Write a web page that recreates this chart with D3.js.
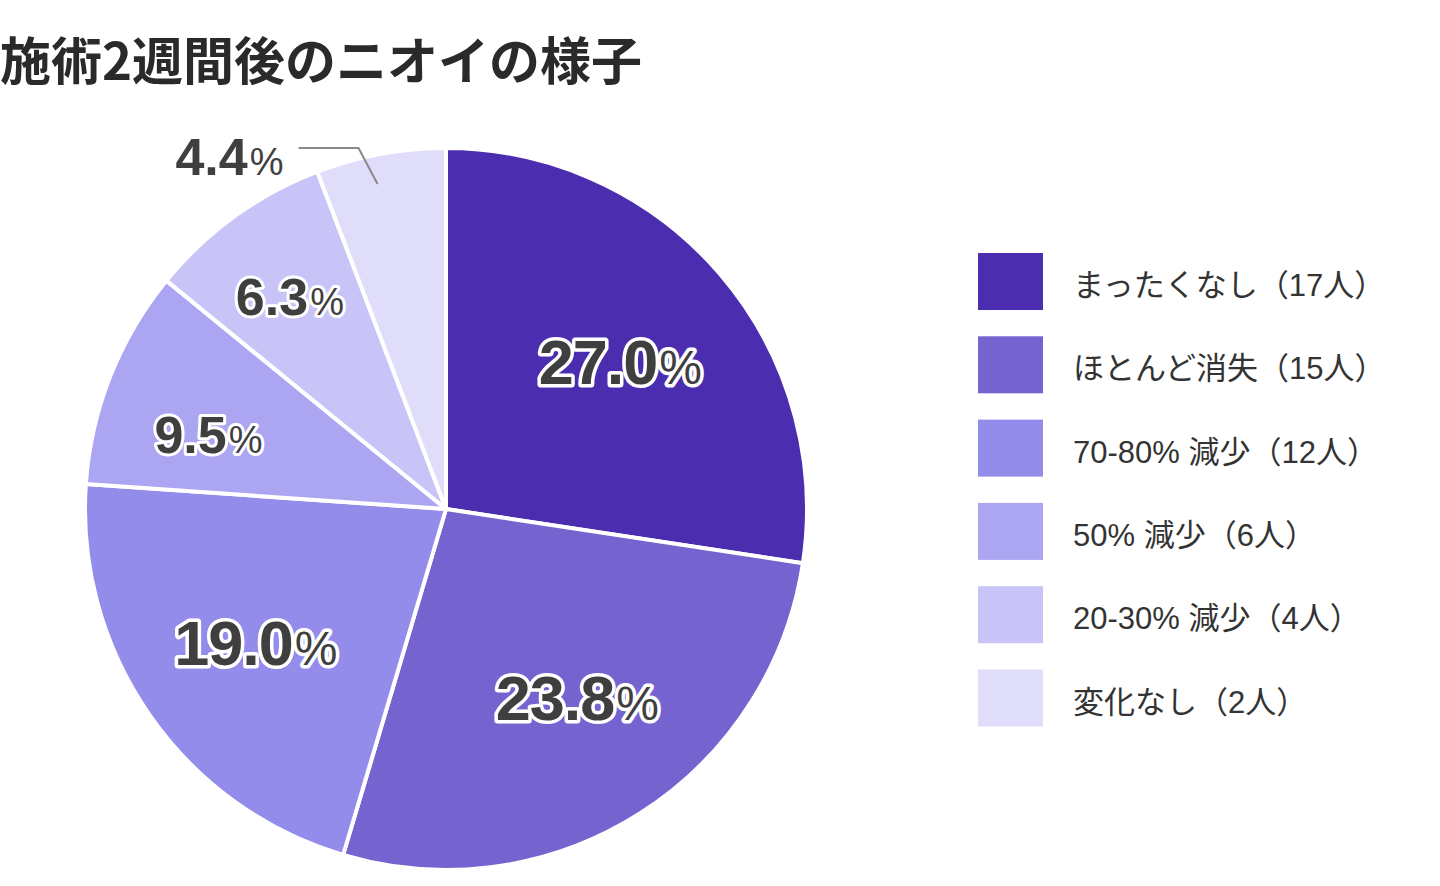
<!DOCTYPE html>
<html>
<head>
<meta charset="utf-8">
<script src="https://cdn.jsdelivr.net/npm/d3@7/dist/d3.min.js"></script>
<style>
  html, body { margin: 0; padding: 0; background: #ffffff; }
  svg { display: block; }
</style>
</head>
<body>
<svg id="chart" width="1440" height="886"></svg>
<script>
// ---- data ----
const titleText = "施術2週間後のニオイの様子";
const categories = ["まったくなし", "ほとんど消失", "70-80% 減少", "50% 減少", "20-30% 減少", "変化なし"];
const counts = [17, 15, 12, 6, 4, 2];
const pctLabels = ["27.0", "23.8", "19.0", "9.5", "6.3", "4.4"];
// slice sizes as drawn in the picture (share of the full circle, %)
const sliceShares = [27.4, 27.2, 21.5, 9.8, 8.3, 5.8];
const colors = ["#4b2daf", "#7563cf", "#948ceb", "#aca6f2", "#c9c4f7", "#e0ddfb"];

// ---- layout (not data) ----
const svg = d3.select("#chart");
const W = 1440, H = 886;
const cx = 446, cy = 509, R = 361;
// label placement inside each slice: fraction along the slice's angle, fraction of radius
const labelAngleFrac = [0.505, 0.475, 0.497, 0.385, 0.483];
const labelRadiusFrac = [0.632, 0.637, 0.643, 0.69, 0.73];

svg.append("rect").attr("width", W).attr("height", H).attr("fill", "#ffffff");

// title
svg.append("text")
  .attr("x", 0).attr("y", 80)
  .attr("font-family", "'Noto Sans CJK JP', sans-serif")
  .attr("font-weight", 700)
  .attr("font-size", 51)
  .attr("fill", "#2a2a2a")
  .text(titleText);

const data = categories.map((c, i) => ({
  cat: c, count: counts[i], pct: pctLabels[i], share: sliceShares[i], color: colors[i], i
}));

const pie = d3.pie().value(d => d.share).sort(null);
const arcs = pie(data);
const arc = d3.arc().innerRadius(0).outerRadius(R);

const g = svg.append("g").attr("transform", `translate(${cx},${cy})`);

g.selectAll("path.slice")
  .data(arcs)
  .join("path")
  .attr("class", "slice")
  .attr("d", arc)
  .attr("fill", d => d.data.color)
  .attr("stroke", "#ffffff")
  .attr("stroke-width", 4)
  .attr("stroke-linejoin", "round");

// inside labels
const inside = arcs.filter(d => d.data.i < 5);
const fsMain = i => i < 3 ? 63 : 52;
const fsPct = i => i < 3 ? 48 : 38;
const lab = g.selectAll("text.pct")
  .data(inside)
  .join("text")
  .attr("class", "pct")
  .attr("text-anchor", "middle")
  .attr("font-family", "'Liberation Sans', Arial, sans-serif")
  .attr("fill", "#3f3f3f")
  .attr("stroke", "#ffffff")
  .attr("stroke-width", d => d.data.i < 3 ? 7 : 6)
  .attr("stroke-linejoin", "round")
  .attr("paint-order", "stroke")
  .attr("font-size", d => fsMain(d.data.i))
  .attr("transform", d => {
    const i = d.data.i;
    const a = d.startAngle + (d.endAngle - d.startAngle) * labelAngleFrac[i];
    const r = R * labelRadiusFrac[i];
    const x = Math.sin(a) * r, y = -Math.cos(a) * r;
    return `translate(${x},${y + fsMain(i) * 0.36})`;
  });
lab.append("tspan")
  .attr("font-weight", 700)
  .attr("letter-spacing", d => d.data.i < 3 ? -1 : 0)
  .text(d => d.data.pct);
lab.append("tspan")
  .attr("font-size", d => fsPct(d.data.i))
  .attr("font-weight", 400)
  .attr("dx", 2)
  .text("%");

// outside label for the smallest slice with leader line
const last = arcs[5];
const a0 = last.startAngle + (last.endAngle - last.startAngle) * 0.43;
const p0 = [Math.sin(a0) * R * 0.92, -Math.cos(a0) * R * 0.92];
const p1 = [p0[0] - 19, -R * 1.0];
const p2 = [p1[0] - 60, p1[1]];
g.append("polyline")
  .attr("points", [p0, p1, p2].map(p => p.join(",")).join(" "))
  .attr("fill", "none")
  .attr("stroke", "#8a8a8a")
  .attr("stroke-width", 2);

const outLab = g.append("text")
  .attr("x", p2[0] - 15)
  .attr("y", p2[1] + 27)
  .attr("text-anchor", "end")
  .attr("font-family", "'Liberation Sans', Arial, sans-serif")
  .attr("font-size", 52)
  .attr("fill", "#3f3f3f");
outLab.append("tspan").attr("font-weight", 700).text(last.data.pct);
outLab.append("tspan").attr("font-size", 38).attr("font-weight", 400).attr("dx", 2).text("%");

// legend
const legend = svg.append("g").attr("transform", "translate(978,253)");
const step = 83.3;
const items = legend.selectAll("g.item")
  .data(data)
  .join("g")
  .attr("class", "item")
  .attr("transform", (d, i) => `translate(0,${i * step})`);
items.append("rect")
  .attr("width", 65).attr("height", 57)
  .attr("fill", d => d.color);
items.append("text")
  .attr("x", 95).attr("y", 43)
  .attr("font-family", "'Liberation Sans', 'Noto Sans CJK JP', sans-serif")
  .attr("font-size", 31)
  .attr("fill", "#333333")
  .text(d => `${d.cat}（${d.count}人）`);
</script>
</body>
</html>
